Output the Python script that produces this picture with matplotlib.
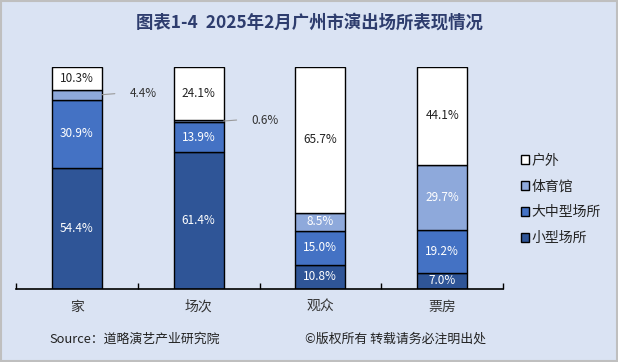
import matplotlib
matplotlib.use("Agg")
import matplotlib.pyplot as plt
import numpy as np

plt.rcParams['font.family'] = ['Noto Sans CJK SC', 'DejaVu Sans']

categories = ["家", "场次", "观众", "票房"]
series_names = ["小型场所", "大中型场所", "体育馆", "户外"]
small = [54.4, 61.4, 10.8, 7.0]
mid = [30.9, 13.9, 15.0, 19.2]
gym = [4.4, 0.6, 8.5, 29.7]
outdoor = [10.3, 24.1, 65.7, 44.1]

colors = ["#2F5597", "#4472C4", "#8EA9DB", "#FFFFFF"]
text_colors = ["white", "white", "white", "#222222"]
bg = "#DAE3F3"

fig = plt.figure(figsize=(6.18, 3.62), dpi=100, facecolor=bg)
ax = fig.add_axes([16/618, 1-288.5/362, (503-16)/618, (288.5-67)/362])
ax.set_facecolor(bg)

x = np.arange(len(categories))
width = 0.41
bottom = np.zeros(len(categories))
data = [small, mid, gym, outdoor]
for vals, c, name in zip(data, colors, series_names):
    ax.bar(x, vals, width, bottom=bottom, color=c, edgecolor="black",
           linewidth=1.0, label=name)
    bottom = bottom + np.array(vals)

bottom = np.zeros(len(categories))
for si, (vals, tc) in enumerate(zip(data, text_colors)):
    for i, v in enumerate(vals):
        yc = bottom[i] + v / 2
        if v < 5:
            # outside label with short leader line
            ax.annotate("", xy=(x[i] + width/2, yc), xytext=(13, 1),
                        textcoords="offset pixels",
                        arrowprops=dict(arrowstyle="-", color="#999999", lw=0.8,
                                        shrinkA=0, shrinkB=0))
            ax.annotate(f"{v:.1f}%", xy=(x[i] + width/2, yc), xytext=(28, 1),
                        textcoords="offset pixels",
                        fontsize=8.5, color="#333333", va="center", ha="left")
        else:
            ax.text(x[i], yc, f"{v:.1f}%", ha="center", va="center",
                    fontsize=8.5, color=tc)
    bottom = bottom + np.array(vals)

ax.set_xlim(-0.5, len(categories) - 0.5)
ax.set_ylim(0, 100)
ax.set_xticks(x)
ax.set_xticklabels(categories, fontsize=10, color="#333333")
ax.tick_params(axis='x', which='major', length=0, pad=8)
ax.set_xticks(np.arange(-0.5, len(categories)), minor=True)
ax.tick_params(axis='x', which='minor', direction='in', length=4, width=1, color='black')
ax.set_yticks([])
for s in ["top", "right", "left"]:
    ax.spines[s].set_visible(False)
ax.spines["bottom"].set_linewidth(1.2)

handles, labels = ax.get_legend_handles_labels()
leg = fig.legend(handles[::-1], labels[::-1], loc="center left",
                 bbox_to_anchor=(508/618, 1-199.5/362), frameon=False,
                 fontsize=10, handlelength=0.6, handleheight=0.6,
                 handletextpad=0.2, labelspacing=0.85)
for t in leg.get_texts():
    t.set_color("#222222")

fig.text(0.5, 1-23/362, "图表1-4  2025年2月广州市演出场所表现情况", ha="center", va="center",
         fontsize=12.5, fontweight="bold", color="#2E3D6E")
fig.text(49/618, 1-339/362, "Source：道略演艺产业研究院", ha="left", va="center",
         fontsize=9.3, color="#222222")
fig.text(305/618, 1-339/362, "©版权所有 转载请务必注明出处", ha="left", va="center",
         fontsize=9.3, color="#222222")

border = plt.Rectangle((0.001, 0.002), 0.997, 0.996, transform=fig.transFigure,
                       fill=False, edgecolor="#BFBFBF", linewidth=1.5)
fig.add_artist(border)

fig.savefig("out.png", dpi=100, facecolor=bg)
